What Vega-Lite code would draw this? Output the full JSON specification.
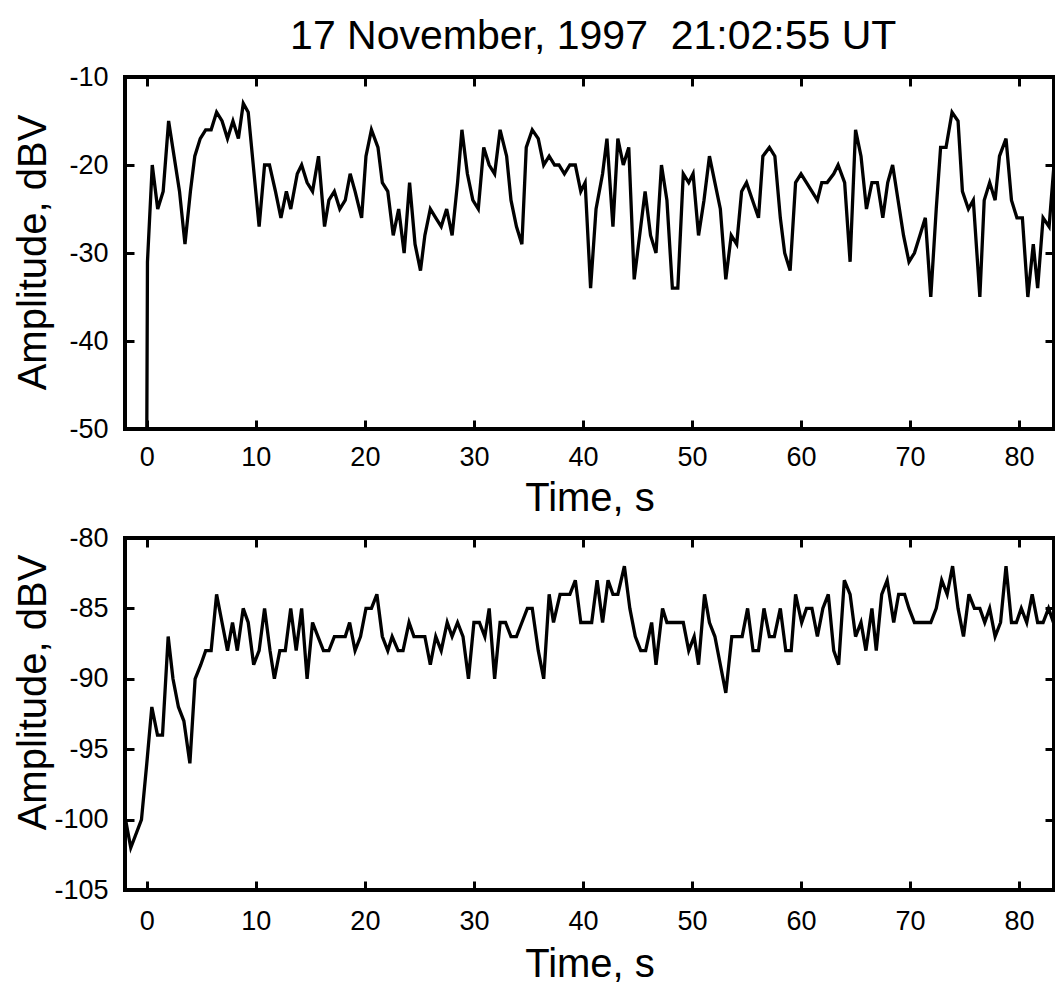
{
  "$schema": "https://vega.github.io/schema/vega-lite/v6.json",
  "background": "white",
  "padding": {"left": 10, "top": 16, "right": 0, "bottom": 0},
  "title": {"text": "17 November, 1997\u00a0 21:02:55 UT", "fontSize": 41, "font": "Liberation Sans", "fontWeight": "normal", "color": "black", "anchor": "middle", "offset": 3, "dx": 59},
  "datasets": {
    "top": [
      {"t":0,"amp":-50},{"t":0.06,"amp":-31},{"t":0.5,"amp":-20},{"t":1.0,"amp":-25},{"t":1.5,"amp":-23},{"t":2.0,"amp":-15},{"t":2.5,"amp":-19},{"t":3.0,"amp":-23},{"t":3.5,"amp":-29},{"t":4.0,"amp":-23},
      {"t":4.4,"amp":-19},{"t":4.9,"amp":-17},{"t":5.4,"amp":-16},{"t":5.9,"amp":-16},{"t":6.4,"amp":-14},{"t":6.9,"amp":-15},{"t":7.4,"amp":-17},{"t":7.9,"amp":-15},{"t":8.4,"amp":-17},{"t":8.85,"amp":-13},
      {"t":9.3,"amp":-14},{"t":9.8,"amp":-20.5},{"t":10.3,"amp":-27},{"t":10.8,"amp":-20},{"t":11.25,"amp":-20},{"t":11.8,"amp":-23},{"t":12.3,"amp":-26},{"t":12.8,"amp":-23},{"t":13.2,"amp":-25},{"t":13.8,"amp":-21},
      {"t":14.2,"amp":-20},{"t":14.7,"amp":-22},{"t":15.2,"amp":-23},{"t":15.75,"amp":-19},{"t":16.3,"amp":-27},{"t":16.7,"amp":-24},{"t":17.2,"amp":-23},{"t":17.7,"amp":-25},{"t":18.2,"amp":-24},{"t":18.65,"amp":-21},
      {"t":19.1,"amp":-23},{"t":19.7,"amp":-26},{"t":20.1,"amp":-19},{"t":20.6,"amp":-16},{"t":21.2,"amp":-18},{"t":21.6,"amp":-22},{"t":22.1,"amp":-23},{"t":22.6,"amp":-28},{"t":23.1,"amp":-25},{"t":23.6,"amp":-30},
      {"t":24.1,"amp":-22},{"t":24.6,"amp":-29},{"t":25.1,"amp":-32},{"t":25.5,"amp":-28},{"t":26.0,"amp":-25},{"t":26.5,"amp":-26},{"t":27.0,"amp":-27},{"t":27.5,"amp":-25},{"t":28.0,"amp":-28},{"t":28.5,"amp":-22},
      {"t":28.9,"amp":-16},{"t":29.4,"amp":-21},{"t":29.9,"amp":-24},{"t":30.4,"amp":-25},{"t":30.9,"amp":-18},{"t":31.4,"amp":-20},{"t":31.9,"amp":-21},{"t":32.4,"amp":-16},{"t":33.0,"amp":-19},{"t":33.4,"amp":-24},
      {"t":33.9,"amp":-27},{"t":34.4,"amp":-29},{"t":34.8,"amp":-18},{"t":35.35,"amp":-16},{"t":35.9,"amp":-17},{"t":36.4,"amp":-20},{"t":36.9,"amp":-19},{"t":37.4,"amp":-20},{"t":37.8,"amp":-20},{"t":38.3,"amp":-21},
      {"t":38.8,"amp":-20},{"t":39.3,"amp":-20},{"t":39.8,"amp":-23},{"t":40.2,"amp":-22},{"t":40.7,"amp":-34},{"t":41.2,"amp":-25},{"t":41.8,"amp":-21},{"t":42.2,"amp":-17},{"t":42.75,"amp":-27},{"t":43.2,"amp":-17},
      {"t":43.7,"amp":-20},{"t":44.2,"amp":-18},{"t":44.7,"amp":-33},{"t":45.2,"amp":-28},{"t":45.7,"amp":-23},{"t":46.2,"amp":-28},{"t":46.7,"amp":-30},{"t":47.2,"amp":-20},{"t":47.7,"amp":-24},{"t":48.2,"amp":-34},
      {"t":48.7,"amp":-34},{"t":49.2,"amp":-21},{"t":49.7,"amp":-22},{"t":50.1,"amp":-21},{"t":50.6,"amp":-28},{"t":51.1,"amp":-24},{"t":51.6,"amp":-19},{"t":52.1,"amp":-22},{"t":52.6,"amp":-25},{"t":53.1,"amp":-33},
      {"t":53.6,"amp":-28},{"t":54.1,"amp":-29},{"t":54.55,"amp":-23},{"t":55.0,"amp":-22},{"t":55.55,"amp":-24},{"t":56.1,"amp":-26},{"t":56.5,"amp":-19},{"t":57.1,"amp":-18},{"t":57.6,"amp":-19},{"t":58.1,"amp":-26},
      {"t":58.5,"amp":-30},{"t":59.0,"amp":-32},{"t":59.5,"amp":-22},{"t":60.0,"amp":-21},{"t":60.5,"amp":-22},{"t":61.0,"amp":-23},{"t":61.5,"amp":-24},{"t":61.9,"amp":-22},{"t":62.4,"amp":-22},{"t":63.0,"amp":-21},
      {"t":63.4,"amp":-20},{"t":64.0,"amp":-22},{"t":64.5,"amp":-31},{"t":65.0,"amp":-16},{"t":65.5,"amp":-19},{"t":66.0,"amp":-25},{"t":66.5,"amp":-22},{"t":67.0,"amp":-22},{"t":67.5,"amp":-26},{"t":67.95,"amp":-22},
      {"t":68.4,"amp":-20},{"t":68.9,"amp":-24},{"t":69.4,"amp":-28},{"t":69.9,"amp":-31},{"t":70.4,"amp":-30},{"t":70.9,"amp":-28},{"t":71.4,"amp":-26},{"t":71.9,"amp":-35},{"t":72.4,"amp":-25},{"t":72.8,"amp":-18},
      {"t":73.3,"amp":-18},{"t":73.85,"amp":-14},{"t":74.4,"amp":-15},{"t":74.8,"amp":-23},{"t":75.35,"amp":-25},{"t":75.8,"amp":-24},{"t":76.4,"amp":-35},{"t":76.8,"amp":-24},{"t":77.3,"amp":-22},{"t":77.8,"amp":-24},
      {"t":78.2,"amp":-19},{"t":78.8,"amp":-17},{"t":79.3,"amp":-24},{"t":79.8,"amp":-26},{"t":80.3,"amp":-26},{"t":80.8,"amp":-35},{"t":81.3,"amp":-29},{"t":81.7,"amp":-34},{"t":82.2,"amp":-26},{"t":82.75,"amp":-27},
      {"t":83.2,"amp":-20}
    ],
    "bottom": [
      {"t":-1.95,"amp":-100},{"t":-1.47,"amp":-102},{"t":-0.49,"amp":-100},{"t":0,"amp":-96},{"t":0.46,"amp":-92},{"t":0.98,"amp":-94},{"t":1.44,"amp":-94},{"t":1.96,"amp":-87},{"t":2.4,"amp":-90},{"t":2.9,"amp":-92},
      {"t":3.4,"amp":-93},{"t":3.95,"amp":-96},{"t":4.43,"amp":-90},{"t":4.95,"amp":-89},{"t":5.4,"amp":-88},{"t":5.9,"amp":-88},{"t":6.4,"amp":-84},{"t":6.9,"amp":-86},{"t":7.4,"amp":-88},{"t":7.86,"amp":-86},
      {"t":8.3,"amp":-88},{"t":8.84,"amp":-85},{"t":9.3,"amp":-86},{"t":9.8,"amp":-89},{"t":10.3,"amp":-88},{"t":10.8,"amp":-85},{"t":11.3,"amp":-88},{"t":11.7,"amp":-90},{"t":12.2,"amp":-88},{"t":12.7,"amp":-88},
      {"t":13.2,"amp":-85},{"t":13.7,"amp":-88},{"t":14.2,"amp":-85},{"t":14.7,"amp":-90},{"t":15.2,"amp":-86},{"t":15.7,"amp":-87},{"t":16.2,"amp":-88},{"t":16.7,"amp":-88},{"t":17.2,"amp":-87},{"t":17.6,"amp":-87},
      {"t":18.2,"amp":-87},{"t":18.6,"amp":-86},{"t":19.1,"amp":-88},{"t":19.6,"amp":-87},{"t":20.1,"amp":-85},{"t":20.6,"amp":-85},{"t":21.1,"amp":-84},{"t":21.6,"amp":-87},{"t":22.1,"amp":-88},{"t":22.5,"amp":-87},
      {"t":23.05,"amp":-88},{"t":23.5,"amp":-88},{"t":24.05,"amp":-86},{"t":24.5,"amp":-87},{"t":25.0,"amp":-87},{"t":25.5,"amp":-87},{"t":26.0,"amp":-89},{"t":26.5,"amp":-87},{"t":27.0,"amp":-88},{"t":27.55,"amp":-86},
      {"t":28.0,"amp":-87},{"t":28.5,"amp":-86},{"t":29.0,"amp":-87},{"t":29.5,"amp":-90},{"t":30.0,"amp":-86},{"t":30.5,"amp":-86},{"t":31.0,"amp":-87},{"t":31.4,"amp":-85},{"t":31.9,"amp":-90},{"t":32.4,"amp":-86},
      {"t":32.9,"amp":-86},{"t":33.4,"amp":-87},{"t":33.9,"amp":-87},{"t":34.4,"amp":-86},{"t":34.9,"amp":-85},{"t":35.35,"amp":-85},{"t":35.9,"amp":-88},{"t":36.4,"amp":-90},{"t":36.9,"amp":-84},{"t":37.3,"amp":-86},
      {"t":37.9,"amp":-84},{"t":38.35,"amp":-84},{"t":38.8,"amp":-84},{"t":39.3,"amp":-83},{"t":39.8,"amp":-86},{"t":40.3,"amp":-86},{"t":40.8,"amp":-86},{"t":41.3,"amp":-83},{"t":41.8,"amp":-86},{"t":42.3,"amp":-83},
      {"t":42.75,"amp":-84},{"t":43.2,"amp":-84},{"t":43.8,"amp":-82},{"t":44.3,"amp":-85},{"t":44.8,"amp":-87},{"t":45.3,"amp":-88},{"t":45.75,"amp":-88},{"t":46.3,"amp":-86},{"t":46.7,"amp":-89},{"t":47.3,"amp":-85},
      {"t":47.7,"amp":-86},{"t":48.3,"amp":-86},{"t":48.75,"amp":-86},{"t":49.2,"amp":-86},{"t":49.7,"amp":-88},{"t":50.2,"amp":-87},{"t":50.6,"amp":-89},{"t":51.15,"amp":-84},{"t":51.6,"amp":-86},{"t":52.1,"amp":-87},
      {"t":52.6,"amp":-89},{"t":53.1,"amp":-91},{"t":53.65,"amp":-87},{"t":54.1,"amp":-87},{"t":54.6,"amp":-87},{"t":55.1,"amp":-85},{"t":55.6,"amp":-88},{"t":56.1,"amp":-88},{"t":56.6,"amp":-85},{"t":57.1,"amp":-87},
      {"t":57.55,"amp":-87},{"t":58.1,"amp":-85},{"t":58.6,"amp":-88},{"t":59.1,"amp":-88},{"t":59.5,"amp":-84},{"t":60.06,"amp":-86},{"t":60.5,"amp":-85},{"t":61.0,"amp":-85},{"t":61.5,"amp":-87},{"t":62.0,"amp":-85},
      {"t":62.5,"amp":-84},{"t":63.0,"amp":-88},{"t":63.45,"amp":-89},{"t":63.97,"amp":-83},{"t":64.5,"amp":-84},{"t":65.0,"amp":-87},{"t":65.5,"amp":-86},{"t":65.95,"amp":-88},{"t":66.5,"amp":-85},{"t":66.9,"amp":-88},
      {"t":67.4,"amp":-84},{"t":67.9,"amp":-83},{"t":68.5,"amp":-86},{"t":68.95,"amp":-84},{"t":69.5,"amp":-84},{"t":69.9,"amp":-85},{"t":70.4,"amp":-86},{"t":70.9,"amp":-86},{"t":71.45,"amp":-86},{"t":71.9,"amp":-86},
      {"t":72.4,"amp":-85},{"t":72.9,"amp":-83},{"t":73.4,"amp":-84},{"t":73.9,"amp":-82},{"t":74.4,"amp":-85},{"t":74.9,"amp":-87},{"t":75.4,"amp":-84},{"t":75.9,"amp":-85},{"t":76.4,"amp":-85},{"t":76.85,"amp":-86},
      {"t":77.3,"amp":-85},{"t":77.8,"amp":-87},{"t":78.3,"amp":-86},{"t":78.8,"amp":-82},{"t":79.3,"amp":-86},{"t":79.75,"amp":-86},{"t":80.2,"amp":-85},{"t":80.7,"amp":-86},{"t":81.2,"amp":-84},{"t":81.7,"amp":-86},
      {"t":82.2,"amp":-86},{"t":82.7,"amp":-85},{"t":83.15,"amp":-86}
    ]
  },
  "spacing": 2,
  "vconcat": [
    {
      "width": 929,
      "height": 352,
      "data": {"name": "top"},
      "layer": [
        {
          "mark": {"type": "line", "color": "black", "strokeWidth": 3.3, "clip": true},
          "encoding": {
            "x": {"field": "t", "type": "quantitative", "scale": {"domain": [-2, 83.2], "nice": false, "zero": false},
                  "axis": {"orient": "bottom", "title": "Time, s", "values": [0,10,20,30,40,50,60,70,80], "labelPadding": 24, "titlePadding": 8}},
            "y": {"field": "amp", "type": "quantitative", "scale": {"domain": [-50, -10], "nice": false, "zero": false},
                  "axis": {"orient": "left", "title": "Amplitude, dBV", "values": [-50,-40,-30,-20,-10], "labelPadding": 26, "titleX": -80, "titleY": 175, "titleAngle": 270, "titleAlign": "center", "titleBaseline": "alphabetic"}}
          }
        },
        {
          "mark": {"type": "line", "opacity": 0},
          "encoding": {
            "x": {"field": "t", "type": "quantitative", "scale": {"domain": [-2, 83.2], "nice": false, "zero": false},
                  "axis": {"orient": "top", "title": null, "labels": false, "values": [0,10,20,30,40,50,60,70,80]}},
            "y": {"field": "amp", "type": "quantitative", "scale": {"domain": [-50, -10], "nice": false, "zero": false},
                  "axis": {"orient": "right", "title": null, "labels": false, "values": [-50,-40,-30,-20,-10]}}
          }
        }
      ],
      "resolve": {"axis": {"x": "independent", "y": "independent"}}
    },
    {
      "width": 929,
      "height": 352,
      "data": {"name": "bottom"},
      "layer": [
        {
          "mark": {"type": "line", "color": "black", "strokeWidth": 3.3, "clip": true},
          "encoding": {
            "x": {"field": "t", "type": "quantitative", "scale": {"domain": [-2, 83.2], "nice": false, "zero": false},
                  "axis": {"orient": "bottom", "title": "Time, s", "values": [0,10,20,30,40,50,60,70,80], "labelPadding": 27, "titlePadding": 10}},
            "y": {"field": "amp", "type": "quantitative", "scale": {"domain": [-105, -80], "nice": false, "zero": false},
                  "axis": {"orient": "left", "title": "Amplitude, dBV", "values": [-105,-100,-95,-90,-85,-80], "labelPadding": 26, "titleX": -80, "titleY": 154, "titleAngle": 270, "titleAlign": "center", "titleBaseline": "alphabetic"}}
          }
        },
        {
          "mark": {"type": "line", "opacity": 0},
          "encoding": {
            "x": {"field": "t", "type": "quantitative", "scale": {"domain": [-2, 83.2], "nice": false, "zero": false},
                  "axis": {"orient": "top", "title": null, "labels": false, "values": [0,10,20,30,40,50,60,70,80]}},
            "y": {"field": "amp", "type": "quantitative", "scale": {"domain": [-105, -80], "nice": false, "zero": false},
                  "axis": {"orient": "right", "title": null, "labels": false, "values": [-105,-100,-95,-90,-85,-80]}}
          }
        }
      ],
      "resolve": {"axis": {"x": "independent", "y": "independent"}}
    }
  ],
  "config": {
    "font": "Liberation Sans",
    "view": {"stroke": "black", "strokeWidth": 4},
    "axis": {
      "domain": false,
      "grid": false,
      "ticks": true,
      "tickSize": -9,
      "tickWidth": 3,
      "tickColor": "black",
      "labelExpr": "'' + datum.value",
      "labelFont": "Liberation Sans",
      "labelFontSize": 27,
      "labelColor": "black",
      "labelPadding": 20,
      "labelFlush": false,
      "labelOverlap": false,
      "titleFont": "Liberation Sans",
      "titleFontSize": 40,
      "titleFontWeight": "normal",
      "titleColor": "black",
      "titlePadding": 4
    }
  }
}
